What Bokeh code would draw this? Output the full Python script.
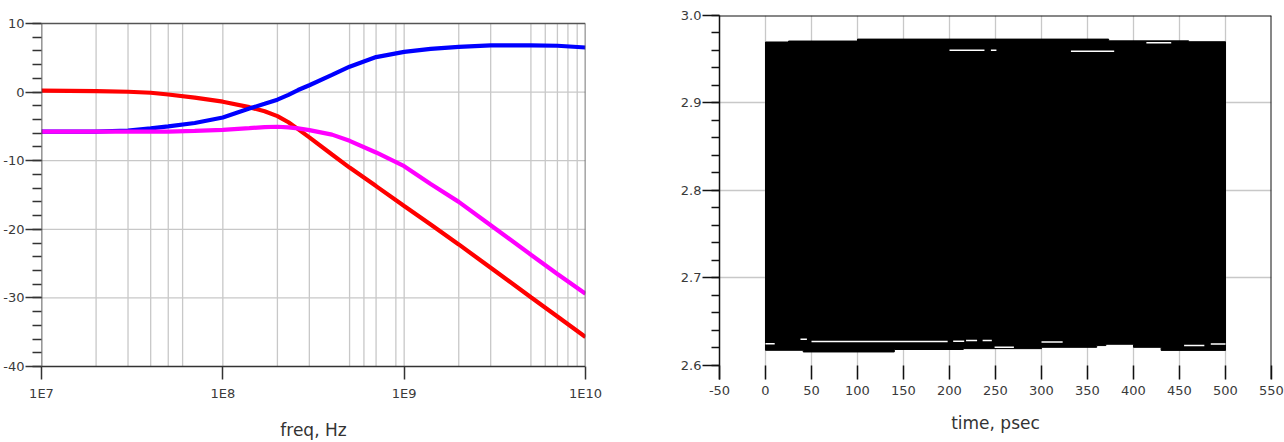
from bokeh.plotting import figure
from bokeh.layouts import row
from bokeh.models import FixedTicker, CustomJSTickFormatter, PrintfTickFormatter, Span
from bokeh.embed import file_html
from bokeh.resources import INLINE

# ---------------- left chart data (dB vs frequency) ----------------
freq = [1e7, 2e7, 3e7, 4e7, 5e7, 7e7, 1e8, 1.4e8, 1.7e8, 2e8, 2.3e8, 2.6e8, 3e8, 4e8, 5e8, 7e8,
        1e9, 1.4e9, 2e9, 3e9, 5e9, 7e9, 1e10]
red_db = [0.2, 0.15, 0.05, -0.1, -0.35, -0.8, -1.4, -2.2, -2.8, -3.5, -4.4, -5.4, -6.6, -9.1,
          -11.0, -13.7, -16.6, -19.3, -22.2, -25.6, -29.9, -32.7, -35.7]
blue_db = [-5.75, -5.75, -5.6, -5.3, -5.0, -4.5, -3.7, -2.4, -1.7, -1.1, -0.4, 0.3, 1.0, 2.5,
           3.7, 5.1, 5.85, 6.3, 6.6, 6.8, 6.8, 6.75, 6.5]
magenta_db = [-5.75, -5.75, -5.75, -5.75, -5.75, -5.65, -5.5, -5.25, -5.1, -5.05, -5.15, -5.3,
              -5.55, -6.2, -7.1, -8.8, -10.8, -13.4, -16.0, -19.4, -23.7, -26.5, -29.4]
freq_ticks = [1e7, 1e8, 1e9, 1e10]
freq_grid = [2e7, 3e7, 4e7, 5e7, 6e7, 1e8, 2e8, 3e8, 5e8, 6e8, 7e8, 9e8,
             1e9, 2e9, 3e9, 5e9, 6e9, 7e9, 8e9, 9e9]
db_ticks = [-40, -30, -20, -10, 0, 10]
db_grid = [-30, -20, -10, 0]
db_minor = list(range(-40, 11, 2))
f_lo, f_hi = 1e7, 1e10
db_lo, db_hi = -40, 10

# ---------------- right chart data (eye diagram) ----------------
eye_top_t = [0, 25, 25, 100, 100, 373, 373, 460, 460, 500]
eye_top_v = [2.9697, 2.9697, 2.9708, 2.9708, 2.9730, 2.9730, 2.9710, 2.9710, 2.9700, 2.9700]
eye_bot_t = [0, 41, 41, 140, 140, 215, 215, 300, 300, 360, 360, 370, 370, 400, 400, 430, 430, 500]
eye_bot_v = [2.6171, 2.6171, 2.6152, 2.6152, 2.6180, 2.6180, 2.6190, 2.6190, 2.6205, 2.6205,
             2.6225, 2.6225, 2.6240, 2.6240, 2.6205, 2.6205, 2.6170, 2.6170]
gap_t0 = [200, 245, 332, 414, 0, 38, 50, 204, 218, 236, 249, 300, 455, 484]
gap_t1 = [238, 251, 379, 441, 10, 45, 198, 216, 230, 246, 270, 323, 477, 500]
gap_v = [2.9603, 2.9603, 2.9592, 2.9689, 2.6247, 2.6296, 2.6273, 2.6275, 2.6284, 2.6284,
         2.6205, 2.6266, 2.6227, 2.6243]
time_ticks = list(range(-50, 551, 50))
time_grid = list(range(0, 501, 50))
volt_ticks = [2.6, 2.7, 2.8, 2.9, 3.0]
volt_grid = [2.7, 2.8, 2.9]
volt_minor = [round(2.6 + 0.02 * i, 2) for i in range(21)]

FONT = "DejaVu Sans"
TICK_COLOR = "#3a3a3a"
GRID_COLOR = "#c8c8c8"

# Both frames share top=15 px and bottom=381 px (row aligns plot frames).
# Left chart: 10 dB sits at 23 px and -40 dB at 368 px -> 6.9 px per dB.
Y1_TOP = 10 + 8 / 6.9
Y1_BOT = -40 - 13 / 6.9

# ---------------- left figure ----------------
p1 = figure(width=640, height=442, x_axis_type="log", x_range=(f_lo, f_hi), y_range=(Y1_BOT, Y1_TOP),
            output_backend="svg", toolbar_location=None,
            min_border_left=41, min_border_right=55, min_border_top=15, min_border_bottom=61)
p1.background_fill_color = "white"
p1.border_fill_color = "white"
p1.outline_line_color = None
p1.xgrid.visible = False
p1.ygrid.visible = False

p1.xaxis.ticker = FixedTicker(ticks=freq_ticks, minor_ticks=[])
p1.xaxis.formatter = CustomJSTickFormatter(code="return '1E' + Math.round(Math.log10(tick));")
p1.yaxis.ticker = FixedTicker(ticks=db_ticks, minor_ticks=db_minor)
p1.yaxis.formatter = CustomJSTickFormatter(code="return tick.toFixed(0);")

for ax in p1.xaxis + p1.yaxis:
    ax.axis_line_color = None
    ax.major_tick_line_color = "#333333"
    ax.minor_tick_line_color = "#333333"
    ax.major_tick_line_width = 1.5
    ax.minor_tick_line_width = 1.5
    ax.major_label_text_font = FONT
    ax.major_label_text_font_size = "13px"
    ax.major_label_text_color = TICK_COLOR
p1.xaxis.major_tick_in = 13
p1.xaxis.major_tick_out = 0
p1.xaxis.minor_tick_in = 0
p1.xaxis.minor_tick_out = 0
p1.xaxis.major_label_standoff = 6
p1.yaxis.major_tick_in = 0
p1.yaxis.minor_tick_in = 0
p1.yaxis.major_tick_out = 16
p1.yaxis.minor_tick_out = 9
p1.yaxis.major_label_standoff = 1
p1.xaxis.axis_label = "freq, Hz"
p1.xaxis.axis_label_text_font = FONT
p1.xaxis.axis_label_text_font_size = "17px"
p1.xaxis.axis_label_text_font_style = "normal"
p1.xaxis.axis_label_text_color = "#333333"
p1.xaxis.axis_label_standoff = 16

# grid lines (inside the plotting box only)
p1.segment(x0=freq_grid, y0=[db_lo] * len(freq_grid), x1=freq_grid, y1=[db_hi] * len(freq_grid),
           line_color=GRID_COLOR, line_width=1.3)
p1.segment(x0=[f_lo] * len(db_grid), y0=db_grid, x1=[f_hi] * len(db_grid), y1=db_grid,
           line_color=GRID_COLOR, line_width=1.3)

p1.line(freq, red_db, line_color="#ff0000", line_width=4.2)
p1.line(freq, blue_db, line_color="#0000ff", line_width=4.2)
p1.line(freq, magenta_db, line_color="#ff00ff", line_width=4.2)

# box border: left & bottom axes dark, top & right a bit lighter
p1.segment(x0=[f_lo, f_lo], y0=[db_lo, db_lo], x1=[f_lo, f_hi], y1=[db_hi, db_lo],
           line_color="#333333", line_width=1.6)
p1.segment(x0=[f_lo, f_hi], y0=[db_hi, db_lo], x1=[f_hi, f_hi], y1=[db_hi, db_hi],
           line_color="#555555", line_width=1.6)

# ---------------- right figure ----------------
p2 = figure(width=644, height=442, x_range=(-50, 550), y_range=(2.5837, 3.0),
            output_backend="svg", toolbar_location=None,
            min_border_left=79, min_border_right=13, min_border_top=15, min_border_bottom=61)
p2.background_fill_color = "white"
p2.border_fill_color = "white"
p2.outline_line_color = None

p2.xaxis.ticker = FixedTicker(ticks=time_ticks, minor_ticks=[])
p2.xaxis.formatter = CustomJSTickFormatter(code="return tick.toFixed(0);")
p2.xgrid.ticker = FixedTicker(ticks=time_grid, minor_ticks=[])
p2.yaxis.ticker = FixedTicker(ticks=volt_ticks, minor_ticks=volt_minor)
p2.yaxis.formatter = PrintfTickFormatter(format="%.1f")
p2.ygrid.ticker = FixedTicker(ticks=volt_grid, minor_ticks=[])

for ax in p2.xaxis + p2.yaxis:
    ax.axis_line_color = "#111111"
    ax.axis_line_width = 1.5
    ax.major_tick_line_color = "#111111"
    ax.minor_tick_line_color = "#111111"
    ax.major_tick_line_width = 1.5
    ax.minor_tick_line_width = 1.5
    ax.major_label_text_font = FONT
    ax.major_label_text_font_size = "13px"
    ax.major_label_text_color = TICK_COLOR
p2.xaxis.axis_line_color = None
p2.xaxis.major_tick_in = 14
p2.xaxis.major_tick_out = 0
p2.xaxis.minor_tick_out = 0
p2.xaxis.minor_tick_in = 0
p2.xaxis.major_label_standoff = 6
p2.yaxis.major_tick_in = 0
p2.yaxis.minor_tick_in = 0
p2.yaxis.major_tick_out = 17
p2.yaxis.minor_tick_out = 8
p2.yaxis.major_label_standoff = 1
p2.xaxis.axis_label = "time, psec"
p2.xaxis.axis_label_text_font = FONT
p2.xaxis.axis_label_text_font_size = "17px"
p2.xaxis.axis_label_text_font_style = "normal"
p2.xaxis.axis_label_text_color = "#333333"
p2.xaxis.axis_label_standoff = 15

for g in p2.xgrid + p2.ygrid:
    g.grid_line_color = GRID_COLOR
    g.grid_line_width = 1.3

eye_x = eye_top_t + eye_bot_t[::-1]
eye_y = eye_top_v + eye_bot_v[::-1]
p2.patch(eye_x, eye_y, fill_color="black", line_color="black", line_width=1)
p2.segment(x0=gap_t0, y0=gap_v, x1=gap_t1, y1=gap_v, line_color="white", line_width=1.5)

p2.add_layout(Span(location=550, dimension="height", line_color="#111111", line_width=2))
p2.add_layout(Span(location=3.0, dimension="width", line_color="#111111", line_width=2))

layout = row(p1, p2, spacing=0)
open("out.html", "w").write(file_html(layout, INLINE))
